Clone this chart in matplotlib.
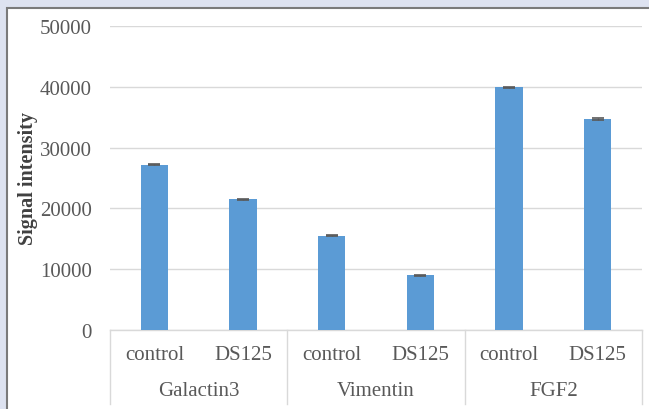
import matplotlib.pyplot as plt
from matplotlib.patches import Rectangle

# values
groups = ['Galactin3', 'Vimentin', 'FGF2']
conditions = ['control', 'DS125']
signal = [27200, 21500, 15500, 9000, 39900, 34700]
errors = [120, 100, 90, 100, 110, 100]
y_ticks = [0, 10000, 20000, 30000, 40000, 50000]

BAR_COLOR = '#5b9bd5'
GRID_COLOR = '#d9d9d9'
TEXT_COLOR = '#595959'
SERIF = ['Liberation Serif', 'DejaVu Serif']
FS = 15

fig = plt.figure(figsize=(6.49, 4.10), dpi=100)
fig.patch.set_facecolor('#dde2f0')

# white panel with dark edge on left/top
panel = Rectangle((7 / 649, -0.1), 1.0, 1 - 9 / 410 + 0.1, transform=fig.transFigure,
                  facecolor='white', edgecolor='#7a7a7a', linewidth=1.5, zorder=-5)
fig.add_artist(panel)

ax = fig.add_axes([110 / 649, 1 - 331 / 410, 532 / 649, 304 / 410])
ax.set_facecolor('none')
ax.set_zorder(1)

x = list(range(len(signal)))
ax.bar(x, signal, width=0.31, color=BAR_COLOR, zorder=3,
       yerr=errors, capsize=4, error_kw=dict(ecolor='#595959', elinewidth=1, capthick=1.2))

ax.set_xlim(-0.5, len(signal) - 0.5)
ax.set_ylim(0, 50000)
ax.set_yticks(y_ticks)
ax.set_yticklabels([str(v) for v in y_ticks], family=SERIF, fontsize=FS, color=TEXT_COLOR)
ax.tick_params(axis='y', length=0, pad=13)
ax.set_xticks([])
ax.grid(axis='y', color=GRID_COLOR, linewidth=1, zorder=0)
for side in ['top', 'right', 'left']:
    ax.spines[side].set_visible(False)
ax.spines['bottom'].set_color(GRID_COLOR)
ax.spines['bottom'].set_linewidth(1)

ax.set_ylabel('Signal intensity', family=SERIF, fontsize=14.5, fontweight='bold',
              color='#404040')
ax.yaxis.set_label_coords(-72 / 532, 0.5)

# two-level category axis
trans = ax.get_xaxis_transform()
box_bottom = -74 / 304
for i, xi in enumerate(x):
    ax.text(xi, -25 / 304, conditions[i % 2], transform=trans, ha='center', va='center',
            family=SERIF, fontsize=FS, color=TEXT_COLOR)
for g, name in enumerate(groups):
    ax.text(2 * g + 0.5, -60 / 304, name, transform=trans, ha='center', va='center',
            family=SERIF, fontsize=FS, color=TEXT_COLOR)
for edge in [-0.5, 1.5, 3.5, 5.5]:
    ax.plot([edge, edge], [0, box_bottom], transform=trans, color=GRID_COLOR,
            linewidth=1, clip_on=False)

fig.savefig('out.png', dpi=100, facecolor=fig.get_facecolor())
